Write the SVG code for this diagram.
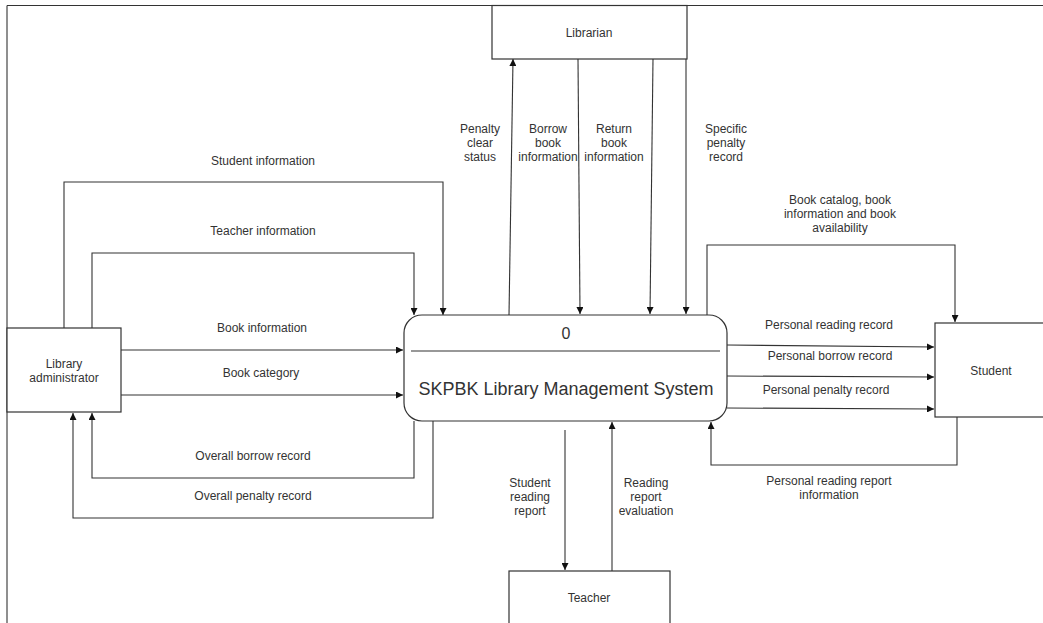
<svg xmlns="http://www.w3.org/2000/svg" width="1043" height="623" viewBox="0 0 1043 623">
  <style>
    .box { fill: #ffffff; stroke: #333333; stroke-width: 1.2; }
    .flow { fill: none; stroke: #333333; stroke-width: 1.1; marker-end: url(#arrow); }
    .plain { fill: none; stroke: #333333; stroke-width: 1.1; }
    text { font-family: "Liberation Sans", Arial, sans-serif; font-size: 12px; fill: #333333; text-anchor: middle; }
    .big { font-size: 18px; }
  </style>
  <defs>
    <marker id="arrow" viewBox="0 0 10 10" refX="10" refY="5" markerWidth="7" markerHeight="7" markerUnits="userSpaceOnUse" orient="auto">
      <path d="M0,0 L10,5 L0,10 z" fill="#111111"/>
    </marker>
  </defs>
  <rect width="1043" height="623" fill="#ffffff"/>

  <!-- outer frame edges -->
  <g id="frame">
    <line class="plain" x1="7" y1="5.5" x2="1043" y2="5.5"/>
    <line class="plain" x1="7" y1="5.5" x2="7" y2="623"/>
  </g>

  <g id="connectors">
    <!-- administrator to system -->
    <polyline class="flow" points="64,328 64,182 443,182 443,315"/>
    <polyline class="flow" points="92,328 92,253 414,253 414,315"/>
    <line class="flow" x1="121" y1="350" x2="403" y2="350"/>
    <line class="flow" x1="121" y1="395" x2="403" y2="395"/>
    <polyline class="flow" points="414,421 414,478 92,478 92,413"/>
    <polyline class="flow" points="433,421 433,518 73,518 73,413"/>
    <!-- librarian flows -->
    <line class="flow" x1="509" y1="315" x2="513" y2="59"/>
    <line class="flow" x1="578" y1="59" x2="580" y2="314"/>
    <line class="flow" x1="653" y1="59" x2="650" y2="314"/>
    <line class="flow" x1="686" y1="59" x2="686" y2="314"/>
    <!-- student flows -->
    <polyline class="flow" points="707,315 707,245 955,245 955,322"/>
    <line class="flow" x1="727" y1="345" x2="934" y2="347"/>
    <line class="flow" x1="727" y1="376" x2="934" y2="377"/>
    <line class="flow" x1="727" y1="408" x2="934" y2="409"/>
    <polyline class="flow" points="957,417 957,465 711,465 711,422"/>
    <!-- teacher flows -->
    <line class="flow" x1="565" y1="430" x2="565" y2="570"/>
    <line class="flow" x1="612" y1="571" x2="612" y2="422"/>
  </g>

  <g id="labels">
    <text x="263" y="165">Student information</text>
    <text x="263" y="235">Teacher information</text>
    <text x="262" y="332">Book information</text>
    <text x="261" y="377">Book category</text>
    <text x="253" y="460">Overall borrow record</text>
    <text x="253" y="500">Overall penalty record</text>
    <text x="480" y="133">Penalty</text>
    <text x="480" y="147">clear</text>
    <text x="480" y="161">status</text>
    <text x="548" y="133">Borrow</text>
    <text x="548" y="147">book</text>
    <text x="548" y="161">information</text>
    <text x="614" y="133">Return</text>
    <text x="614" y="147">book</text>
    <text x="614" y="161">information</text>
    <text x="726" y="133">Specific</text>
    <text x="726" y="147">penalty</text>
    <text x="726" y="161">record</text>
    <text x="840" y="204">Book catalog, book</text>
    <text x="840" y="218">information and book</text>
    <text x="840" y="232">availability</text>
    <text x="829" y="329">Personal reading record</text>
    <text x="830" y="360">Personal borrow record</text>
    <text x="826" y="394">Personal penalty record</text>
    <text x="829" y="485">Personal reading report</text>
    <text x="829" y="499">information</text>
    <text x="530" y="487">Student</text>
    <text x="530" y="501">reading</text>
    <text x="530" y="515">report</text>
    <text x="646" y="487">Reading</text>
    <text x="646" y="501">report</text>
    <text x="646" y="515">evaluation</text>
  </g>

  <g id="librarian">
    <rect class="box" x="492" y="5.5" width="195" height="53.5"/>
    <text x="589" y="37">Librarian</text>
  </g>

  <g id="library-administrator">
    <rect class="box" x="7" y="328" width="114" height="84"/>
    <text x="64" y="368">Library</text>
    <text x="64" y="382">administrator</text>
  </g>

  <g id="student">
    <rect class="box" x="935" y="323" width="112" height="94"/>
    <text x="991" y="375">Student</text>
  </g>

  <g id="teacher">
    <rect class="box" x="509" y="571" width="161" height="60"/>
    <text x="589" y="602">Teacher</text>
  </g>

  <g id="process-0">
    <rect class="box" x="404" y="315" width="323" height="106" rx="18" ry="18"/>
    <line class="plain" x1="411" y1="351" x2="720" y2="351"/>
    <text x="566" y="339" style="font-size:16px">0</text>
    <text class="big" x="566" y="395">SKPBK Library Management System</text>
  </g>
</svg>
